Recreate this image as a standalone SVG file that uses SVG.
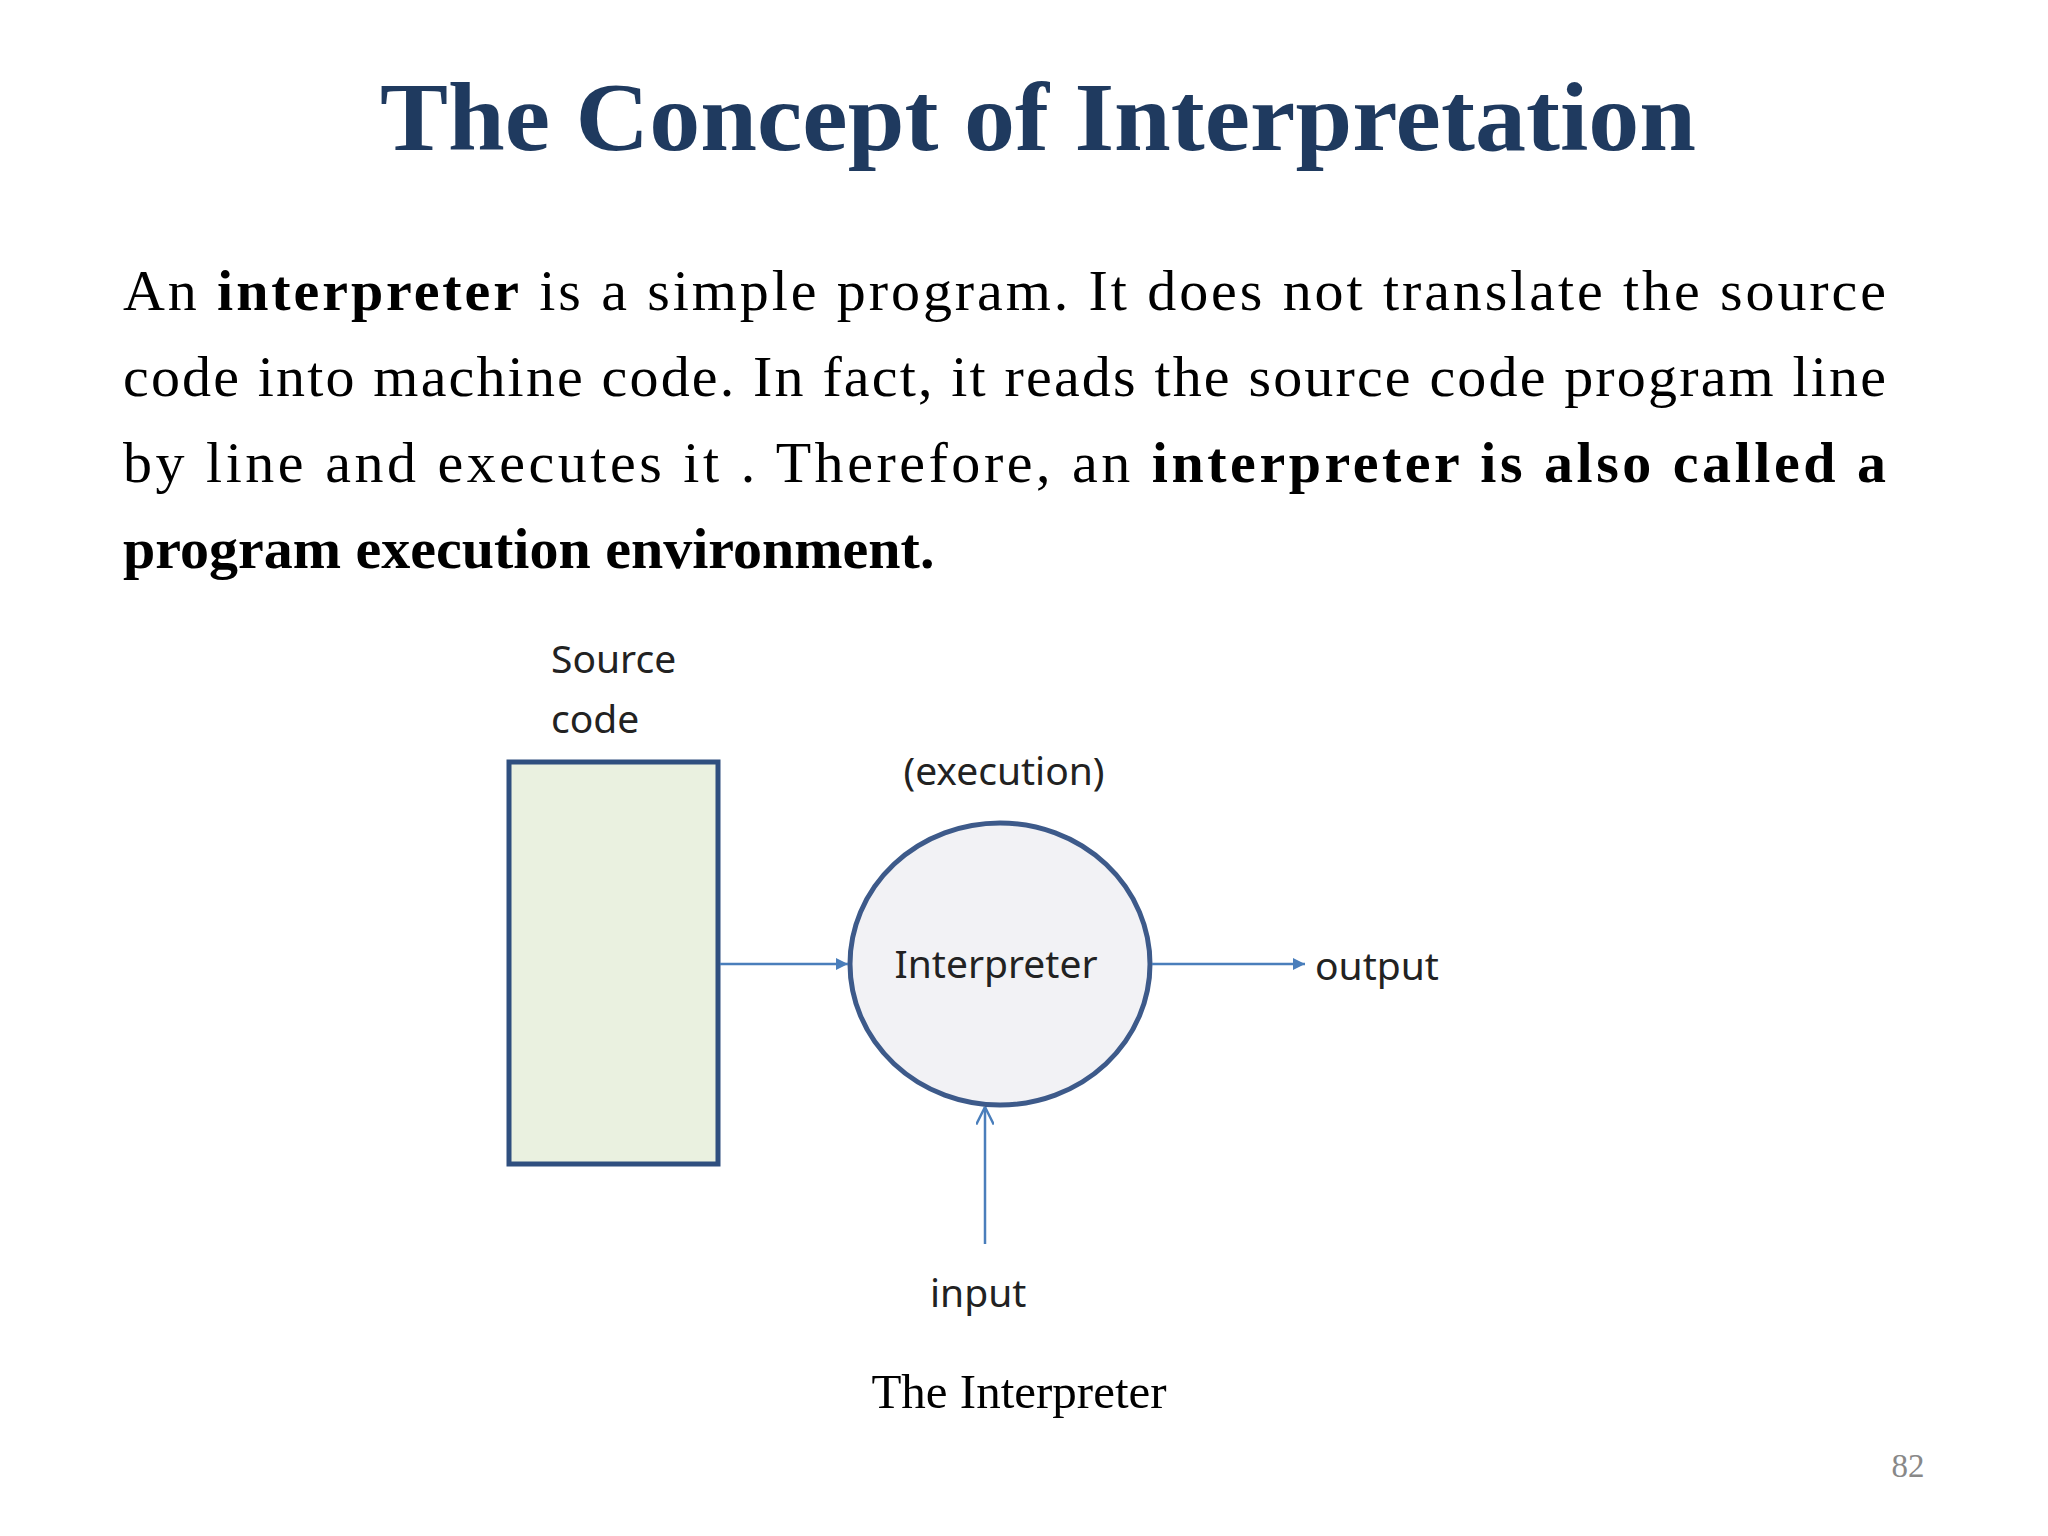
<svg xmlns="http://www.w3.org/2000/svg" width="2048" height="1536" viewBox="0 0 2048 1536">
<defs>
<marker id="tri" viewBox="0 0 10 10" refX="10" refY="5" markerWidth="5" markerHeight="5" orient="auto"><path d="M0,0 L10,5 L0,10 z" fill="#4A7EBB"/></marker>
<marker id="open" viewBox="0 0 10 10" refX="10" refY="5" markerWidth="7" markerHeight="7" orient="auto"><path d="M0,0 L10,5 L0,10" fill="none" stroke="#4A7EBB" stroke-width="1.4"/></marker>
</defs>
<style>
.serif{font-family:"Liberation Serif","Times New Roman",serif;}
.para{font-size:58px;fill:#000;}
.sans{font-family:"Noto Sans","Open Sans",sans-serif;font-size:39px;fill:#222;}
.conn{stroke:#4A7EBB;stroke-width:2.5;fill:none;}
</style>
<rect width="2048" height="1536" fill="#fff"/>
<text class="serif" x="1038" y="150" text-anchor="middle" font-size="98" font-weight="bold" fill="#1F3A5F" textLength="1316" lengthAdjust="spacingAndGlyphs">The Concept of Interpretation</text>
<text class="serif para" x="123" y="310" textLength="1763" lengthAdjust="spacing">An <tspan font-weight="bold">interpreter</tspan> is a simple program. It does not translate the source</text>
<text class="serif para" x="123" y="396" textLength="1763" lengthAdjust="spacing">code into machine code. In fact, it reads the source code program line</text>
<text class="serif para" x="123" y="482" textLength="1763" lengthAdjust="spacing">by line and executes it . Therefore, an <tspan font-weight="bold">interpreter is also called a</tspan></text>
<text class="serif para" x="123" y="568" font-weight="bold">program execution environment.</text>
<g id="source">
<rect x="509" y="762" width="209" height="402" fill="#EAF1E0" stroke="#2F4F7F" stroke-width="5"/>
<text class="sans" x="551" y="673">Source</text>
<text class="sans" x="551" y="733">code</text>
</g>
<g id="interpreter">
<ellipse cx="1000" cy="964" rx="150" ry="141" fill="#F2F2F5" stroke="#3D5A8A" stroke-width="5"/>
<text class="sans" x="996" y="978" text-anchor="middle">Interpreter</text>
<text class="sans" x="1004" y="785" text-anchor="middle">(execution)</text>
</g>
<g id="output"><text class="sans" x="1315" y="980">output</text></g>
<g id="input"><text class="sans" x="930" y="1307">input</text></g>
<g id="connectors">
<line class="conn" x1="720" y1="964" x2="848" y2="964" marker-end="url(#tri)"/>
<line class="conn" x1="1152" y1="964" x2="1305" y2="964" marker-end="url(#tri)"/>
<line class="conn" x1="985" y1="1244" x2="985" y2="1107" marker-end="url(#open)"/>
</g>
<text class="serif" x="1019" y="1408" text-anchor="middle" font-size="49" fill="#000">The Interpreter</text>
<text class="serif" x="1908" y="1477" text-anchor="middle" font-size="33" fill="#888">82</text>
</svg>
